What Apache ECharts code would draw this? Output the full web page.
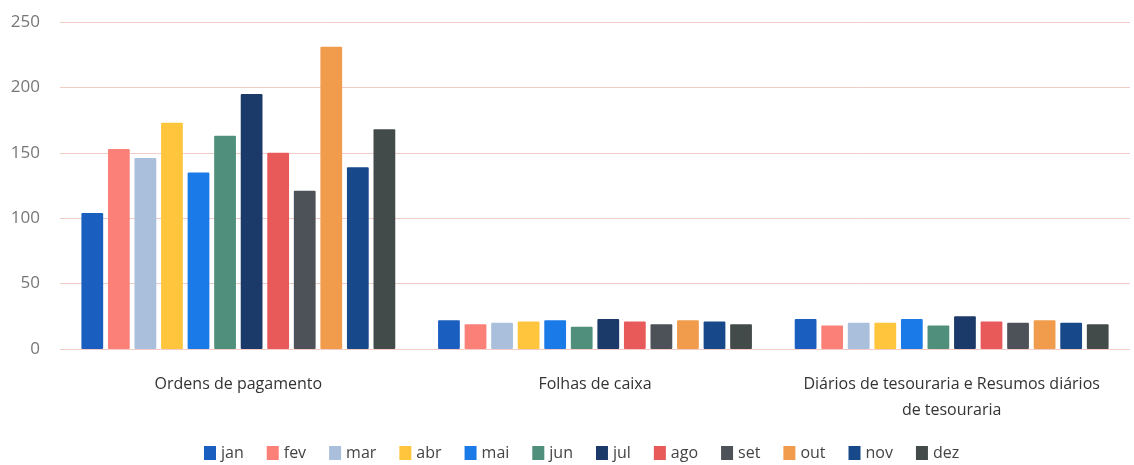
<!DOCTYPE html>
<html>
<head>
<meta charset="utf-8">
<script src="https://cdn.jsdelivr.net/npm/echarts@6/dist/echarts.min.js"></script>
<style>
  html, body { margin: 0; padding: 0; background: #fff; }
  #chart { width: 1134px; height: 465px; }
</style>
</head>
<body>
<div id="chart"></div>
<script>
// categorias do eixo x
const categories = ['Ordens de pagamento', 'Folhas de caixa', 'Diários de tesouraria e Resumos diários\nde tesouraria'];
const months = ['jan', 'fev', 'mar', 'abr', 'mai', 'jun', 'jul', 'ago', 'set', 'out', 'nov', 'dez'];
const colors = ['#1a5fc0', '#fb8178', '#a9bfdb', '#fec53d', '#1a7ae8', '#4f8f7c', '#1c3a69', '#e85a5a', '#4d5158', '#f09c4c', '#17488a', '#434b4a'];

// valores por mes: [ordens, folhas, diarios]
const jan = [104, 22, 23];
const fev = [153, 19, 18];
const mar = [146, 20, 20];
const abr = [173, 21, 20];
const mai = [135, 22, 23];
const jun = [163, 17, 18];
const jul = [195, 23, 25];
const ago = [150, 21, 21];
const set = [121, 19, 20];
const out = [231, 22, 22];
const nov = [139, 21, 20];
const dez = [168, 19, 19];
const values = [jan, fev, mar, abr, mai, jun, jul, ago, set, out, nov, dez];

const yTicks = { min: 0, max: 250, interval: 50 };

const myChart = echarts.init(document.getElementById('chart'));

const series = months.map((m, i) => ({
    name: m,
    type: 'bar',
    data: values[i],
    itemStyle: { color: colors[i], borderRadius: 1 },
    barGap: '22%',
    barCategoryGap: '12%'
}));

const option = {
    animation: false,
    grid: { left: 60, right: 4, top: 22, bottom: 116 },
    legend: {
        bottom: -1,
        left: 199,
        icon: 'rect',
        itemWidth: 12,
        itemHeight: 14,
        itemGap: 23,
        textStyle: { color: '#444', fontSize: 16, fontFamily: 'Open Sans' },
        data: months
    },
    xAxis: {
        type: 'category',
        data: categories,
        axisLine: { show: false },
        axisTick: { show: false },
        axisLabel: { interval: 0, color: '#333', fontSize: 16, fontFamily: 'Open Sans', margin: 22, lineHeight: 26 }
    },
    yAxis: {
        type: 'value',
        min: yTicks.min,
        max: yTicks.max,
        interval: yTicks.interval,
        axisLine: { show: false },
        axisTick: { show: false },
        axisLabel: { color: '#777', fontSize: 17, fontFamily: 'Open Sans', margin: 20 },
        splitLine: { lineStyle: { color: '#f3cbc7', width: 1 } }
    },
    series: series
};

myChart.setOption(option);
</script>
</body>
</html>
